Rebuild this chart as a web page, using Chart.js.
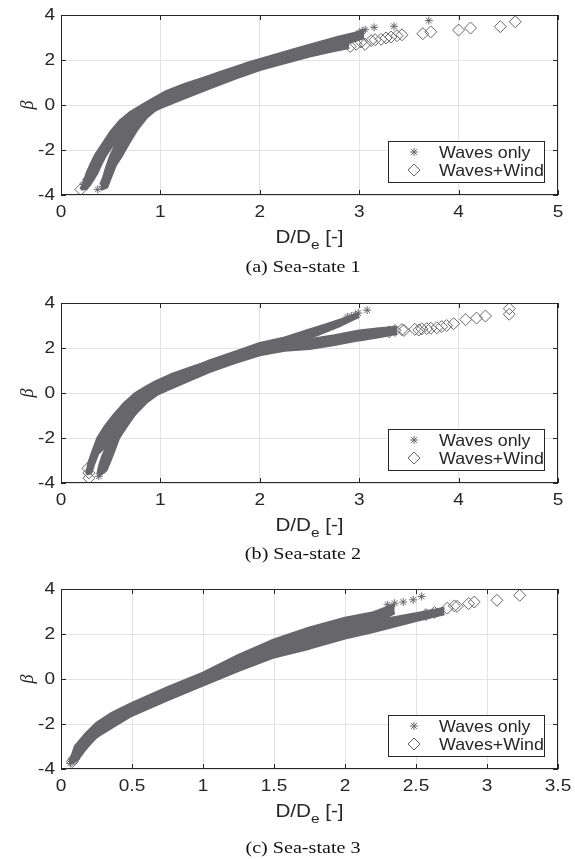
<!DOCTYPE html>
<html>
<head>
<meta charset="utf-8">
<script src="https://cdn.jsdelivr.net/npm/chart.js@4/dist/chart.umd.min.js"></script>
<style>
  body { margin: 0; background: #fff; width: 575px; height: 859px; position: relative; overflow: hidden; }
  .panel { position: absolute; left: 0; width: 575px; height: 260px; }
  .caption { position: absolute; left: 0; width: 606px; text-align: center;
             font: 17.5px "Liberation Serif", "Times New Roman", serif; color: #111; line-height: 20px;
             transform: scaleX(1.15); transform-origin: 303px 0; }
</style>
</head>
<body>
<div class="panel" style="top:0"><canvas id="c1" width="575" height="260"></canvas></div>
<div class="caption" style="top:256px">(a) Sea-state 1</div>
<div class="panel" style="top:288px"><canvas id="c2" width="575" height="260"></canvas></div>
<div class="caption" style="top:543px">(b) Sea-state 2</div>
<div class="panel" style="top:574px"><canvas id="c3" width="575" height="260"></canvas></div>
<div class="caption" style="top:837px">(c) Sea-state 3</div>

<script>
// series labels
const labelOnly = "Waves only";
const labelWind = "Waves+Wind";

// Sea-state 1: edges of the dense point cloud, plus the sparse outer points
const ss1OnlyUpper = [[0.40,-3.55],[0.43,-3.2],[0.46,-2.75],[0.50,-2.25],[0.55,-1.8],[0.62,-1.35],[0.72,-0.8],[0.85,-0.25],[1.0,0.28],[1.15,0.7],[1.35,1.05],[1.6,1.45],[1.85,1.82],[2.1,2.15],[2.35,2.47],[2.6,2.78],[2.8,3.02],[2.95,3.18],[3.05,3.3]];
const ss1OnlyLower = [[0.40,-3.75],[0.46,-3.65],[0.50,-3.2],[0.55,-2.65],[0.61,-2.25],[0.68,-1.7],[0.76,-1.12],[0.86,-0.55],[0.95,-0.22],[1.05,0.05],[1.25,0.42],[1.5,0.85],[1.75,1.25],[2.0,1.65],[2.25,2.0],[2.5,2.32],[2.75,2.62],[2.95,2.85],[3.05,3.0]];
const ss1OnlyPts = [[0.37,-3.75],[0.42,-3.62],[0.45,-3.5],[2.97,3.12],[3.0,3.22],[3.03,3.28],[3.06,3.35],[3.15,3.45],[3.35,3.5],[3.7,3.75]];
const ss1WindUpper = [[0.20,-3.75],[0.23,-3.45],[0.26,-3.05],[0.30,-2.65],[0.35,-2.2],[0.41,-1.8],[0.50,-1.2],[0.60,-0.68],[0.70,-0.32],[0.82,0.0],[0.95,0.33],[1.05,0.58],[1.25,0.93],[1.5,1.28],[1.75,1.6],[2.0,1.92],[2.25,2.2],[2.5,2.45],[2.7,2.62],[2.9,2.75]];
const ss1WindLower = [[0.20,-3.75],[0.26,-3.7],[0.30,-3.45],[0.36,-3.04],[0.40,-2.65],[0.44,-2.3],[0.50,-1.9],[0.57,-1.5],[0.65,-1.05],[0.80,-0.5],[1.0,-0.12],[1.25,0.33],[1.5,0.76],[1.75,1.18],[2.0,1.57],[2.25,1.88],[2.5,2.18],[2.75,2.42],[2.9,2.55]];
const ss1WindPts = [[0.20,-3.75],[0.25,-3.5],[0.28,-3.3],[2.91,2.6],[2.97,2.7],[3.02,2.8],[3.06,2.7],[3.12,2.86],[3.16,2.9],[3.22,2.92],[3.27,2.98],[3.32,3.02],[3.38,3.08],[3.43,3.12],[3.64,3.17],[3.72,3.25],[4.0,3.33],[4.12,3.42],[4.42,3.48],[4.57,3.7]];

// Sea-state 2
const ss2OnlyUpper = [[0.37,-3.6],[0.39,-3.2],[0.42,-2.8],[0.46,-2.4],[0.52,-1.9],[0.60,-1.35],[0.70,-0.75],[0.80,-0.3],[0.90,0.1],[1.0,0.45],[1.2,0.85],[1.5,1.44],[1.75,1.82],[2.0,2.2],[2.25,2.45],[2.5,2.8],[2.7,3.08],[2.85,3.3],[2.95,3.45],[3.0,3.55]];
const ss2OnlyLower = [[0.37,-3.7],[0.45,-3.45],[0.48,-3.15],[0.53,-2.6],[0.58,-2.0],[0.66,-1.4],[0.75,-0.9],[0.87,-0.35],[0.97,-0.03],[1.2,0.4],[1.5,0.98],[1.75,1.4],[2.0,1.75],[2.2,2.03],[2.5,2.45],[2.8,2.98],[2.95,3.3],[3.0,3.4]];
const ss2OnlyPts = [[0.38,-3.7],[0.41,-3.45],[2.88,3.38],[2.92,3.42],[2.96,3.48],[2.99,3.55],[3.08,3.68]];
const ss2WindUpper = [[0.26,-3.6],[0.28,-3.1],[0.32,-2.6],[0.37,-2.0],[0.45,-1.45],[0.54,-0.94],[0.64,-0.45],[0.74,-0.05],[0.85,0.25],[0.95,0.5],[1.1,0.8],[1.3,1.12],[1.5,1.42],[1.75,1.78],[2.0,2.1],[2.25,2.25],[2.5,2.37],[2.75,2.55],[3.0,2.76],[3.2,2.86],[3.38,2.92]];
const ss2WindLower = [[0.26,-3.6],[0.30,-3.55],[0.33,-3.15],[0.37,-2.7],[0.45,-2.35],[0.58,-1.98],[0.74,-0.94],[0.86,-0.4],[0.97,-0.05],[1.2,0.42],[1.5,0.96],[1.75,1.35],[2.0,1.7],[2.25,1.9],[2.5,1.98],[2.75,2.15],[3.0,2.36],[3.2,2.5],[3.38,2.65]];
const ss2WindPts = [[0.28,-3.78],[0.28,-3.55],[0.27,-3.35],[3.3,2.72],[3.36,2.78],[3.43,2.82],[3.45,2.78],[3.56,2.83],[3.6,2.8],[3.63,2.85],[3.68,2.86],[3.72,2.88],[3.78,2.9],[3.83,2.95],[3.88,3.0],[3.95,3.08],[4.07,3.26],[4.18,3.33],[4.27,3.42],[4.51,3.5],[4.51,3.75]];

// Sea-state 3
const ss3OnlyUpper = [[0.07,-3.6],[0.10,-3.0],[0.18,-2.4],[0.25,-1.97],[0.35,-1.55],[0.5,-1.08],[0.75,-0.38],[1.0,0.26],[1.25,1.05],[1.5,1.74],[1.75,2.27],[2.0,2.7],[2.2,2.95],[2.35,3.3]];
const ss3OnlyLower = [[0.07,-3.75],[0.12,-3.55],[0.20,-2.85],[0.30,-2.3],[0.5,-1.6],[0.75,-0.92],[1.0,-0.26],[1.25,0.4],[1.5,1.0],[1.75,1.45],[2.0,1.95],[2.2,2.45],[2.35,2.95]];
const ss3OnlyPts = [[0.065,-3.75],[2.3,3.3],[2.35,3.37],[2.41,3.42],[2.48,3.52],[2.54,3.67]];
const ss3WindUpper = [[0.06,-3.7],[0.10,-3.1],[0.20,-2.35],[0.30,-1.9],[0.5,-1.2],[0.75,-0.5],[1.0,0.15],[1.25,0.9],[1.5,1.6],[1.75,2.05],[2.0,2.35],[2.2,2.56],[2.5,2.9],[2.7,3.15]];
const ss3WindLower = [[0.06,-3.7],[0.10,-3.6],[0.25,-2.56],[0.5,-1.6],[0.75,-0.92],[1.0,-0.26],[1.25,0.38],[1.5,0.98],[1.75,1.37],[2.0,1.82],[2.2,2.11],[2.5,2.6],[2.7,2.9]];
const ss3WindPts = [[0.08,-3.67],[0.09,-3.55],[2.57,2.86],[2.63,2.96],[2.72,3.15],[2.77,3.25],[2.79,3.23],[2.87,3.35],[2.91,3.42],[3.07,3.5],[3.23,3.72]];

const xMaxes = [5, 5, 3.5];
const xSteps = [1, 1, 0.5];
const yTicks = [-4, -2, 0, 2, 4];

const GRAY = "#66666b";
const INK = "#262626";
const SANS = "'Liberation Sans', Arial, sans-serif";

const xy = arr => arr.map(p => ({ x: p[0], y: p[1] }));

function edge(data, fill) {
  return {
    data: xy(data), showLine: true, pointRadius: 0, borderColor: GRAY, borderWidth: 3,
    borderJoinStyle: "round", backgroundColor: GRAY, fill: fill, tension: 0
  };
}

// text drawn a little wider than the font's natural width
function wideText(ctx, text, x, y, align, sx) {
  ctx.save();
  ctx.translate(x, y);
  ctx.scale(sx, 1);
  ctx.textAlign = align;
  ctx.fillText(text, 0, 0);
  ctx.restore();
}

// frame, inward ticks, tick labels, legend box and axis names
const decor = {
  id: "decor",
  afterDraw(chart) {
    const { ctx, chartArea: a, scales } = chart;
    ctx.save();
    ctx.strokeStyle = INK;
    ctx.lineWidth = 1;
    ctx.strokeRect(a.left + 0.5, a.top + 0.5, a.right - a.left - 1, a.bottom - a.top - 1);
    ctx.beginPath();
    scales.x.ticks.forEach(t => {
      const px = Math.round(scales.x.getPixelForValue(t.value)) + 0.5;
      ctx.moveTo(px, a.bottom); ctx.lineTo(px, a.bottom - 5);
      ctx.moveTo(px, a.top); ctx.lineTo(px, a.top + 5);
    });
    scales.y.ticks.forEach(t => {
      const py = Math.round(scales.y.getPixelForValue(t.value)) + 0.5;
      ctx.moveTo(a.left, py); ctx.lineTo(a.left + 5, py);
      ctx.moveTo(a.right, py); ctx.lineTo(a.right - 5, py);
    });
    ctx.stroke();

    // tick labels
    ctx.fillStyle = INK;
    ctx.font = "17px " + SANS;
    ctx.textBaseline = "middle";
    scales.x.ticks.forEach(t => {
      wideText(ctx, String(t.value), scales.x.getPixelForValue(t.value), a.bottom + 17, "center", 1.12);
    });
    scales.y.ticks.forEach(t => {
      wideText(ctx, String(t.value), a.left - 6, scales.y.getPixelForValue(t.value), "right", 1.12);
    });

    // legend
    const lx = a.right - 170, ly = a.top + 126;
    ctx.fillStyle = "#fff";
    ctx.fillRect(lx, ly, 156, 41);
    ctx.strokeRect(lx + 0.5, ly + 0.5, 156, 41);
    const ds = chart.data.datasets;
    [ds[4], ds[5]].forEach((d, i) => {
      const cy = ly + 11 + i * 18;
      ctx.strokeStyle = GRAY;
      ctx.fillStyle = "rgba(0,0,0,0)";
      Chart.helpers.drawPoint(ctx, { pointStyle: d.pointStyle, radius: d.pointRadius, borderWidth: 1, rotation: 0 }, lx + 26, cy);
      ctx.fillStyle = INK;
      ctx.font = "16.5px " + SANS;
      ctx.textBaseline = "middle";
      wideText(ctx, d.label, lx + 51, cy + 1, "left", 1.08);
    });

    // y name
    ctx.fillStyle = INK;
    ctx.save();
    ctx.translate(28, (a.top + a.bottom) / 2);
    ctx.rotate(-Math.PI / 2);
    ctx.font = "italic 18px 'Liberation Serif', serif";
    ctx.textAlign = "center";
    ctx.textBaseline = "middle";
    ctx.fillText("β", 0, 0);
    ctx.restore();

    // x name with subscript
    ctx.textBaseline = "alphabetic";
    const sx = 1.18;
    const big = "17.5px " + SANS, small = "13px " + SANS;
    ctx.font = big; const w1 = ctx.measureText("D/D").width * sx; const w3 = ctx.measureText(" [-]").width * sx;
    ctx.font = small; const w2 = ctx.measureText("e").width * sx;
    const x0 = (a.left + a.right) / 2 - (w1 + w2 + w3) / 2;
    const base = a.bottom + 48;
    ctx.font = big; wideText(ctx, "D/D", x0, base, "left", sx);
    ctx.font = small; wideText(ctx, "e", x0 + w1, base + 6, "left", sx);
    ctx.font = big; wideText(ctx, " [-]", x0 + w1 + w2, base, "left", sx);
    ctx.restore();
  }
};

function makePanel(id, xMax, xStep, onlyUpper, onlyLower, onlyPts, windUpper, windLower, windPts) {
  const ctx = document.getElementById(id).getContext("2d");
  return new Chart(ctx, {
    type: "line",
    data: {
      datasets: [
        edge(onlyLower, false),
        edge(onlyUpper, "-1"),
        edge(windLower, false),
        edge(windUpper, "-1"),
        {
          label: labelOnly, data: xy(onlyPts), showLine: false, pointStyle: "star",
          pointRadius: 4, borderColor: GRAY, borderWidth: 1, backgroundColor: GRAY
        },
        {
          label: labelWind, data: xy(windPts), showLine: false, pointStyle: "rectRot",
          pointRadius: 6, borderColor: GRAY, borderWidth: 1, backgroundColor: "rgba(255,255,255,0)"
        }
      ]
    },
    options: {
      responsive: false,
      animation: false,
      layout: { padding: { top: 15, right: 17, left: 0, bottom: 0 } },
      plugins: { legend: { display: false }, tooltip: { enabled: false } },
      elements: { point: { hoverRadius: 0 } },
      scales: {
        x: {
          type: "linear", min: 0, max: xMax,
          ticks: { stepSize: xStep, display: false },
          grid: { color: "#e3e3e3", drawTicks: false },
          border: { display: false },
          afterFit: s => { s.height = 65; }
        },
        y: {
          type: "linear", min: -4, max: 4,
          afterBuildTicks: s => { s.ticks = yTicks.map(v => ({ value: v })); },
          ticks: { display: false },
          grid: { color: "#e3e3e3", drawTicks: false },
          border: { display: false },
          afterFit: s => { s.width = 61; }
        }
      }
    },
    plugins: [decor]
  });
}

makePanel("c1", xMaxes[0], xSteps[0], ss1OnlyUpper, ss1OnlyLower, ss1OnlyPts, ss1WindUpper, ss1WindLower, ss1WindPts);
makePanel("c2", xMaxes[1], xSteps[1], ss2OnlyUpper, ss2OnlyLower, ss2OnlyPts, ss2WindUpper, ss2WindLower, ss2WindPts);
makePanel("c3", xMaxes[2], xSteps[2], ss3OnlyUpper, ss3OnlyLower, ss3OnlyPts, ss3WindUpper, ss3WindLower, ss3WindPts);
</script>
</body>
</html>
